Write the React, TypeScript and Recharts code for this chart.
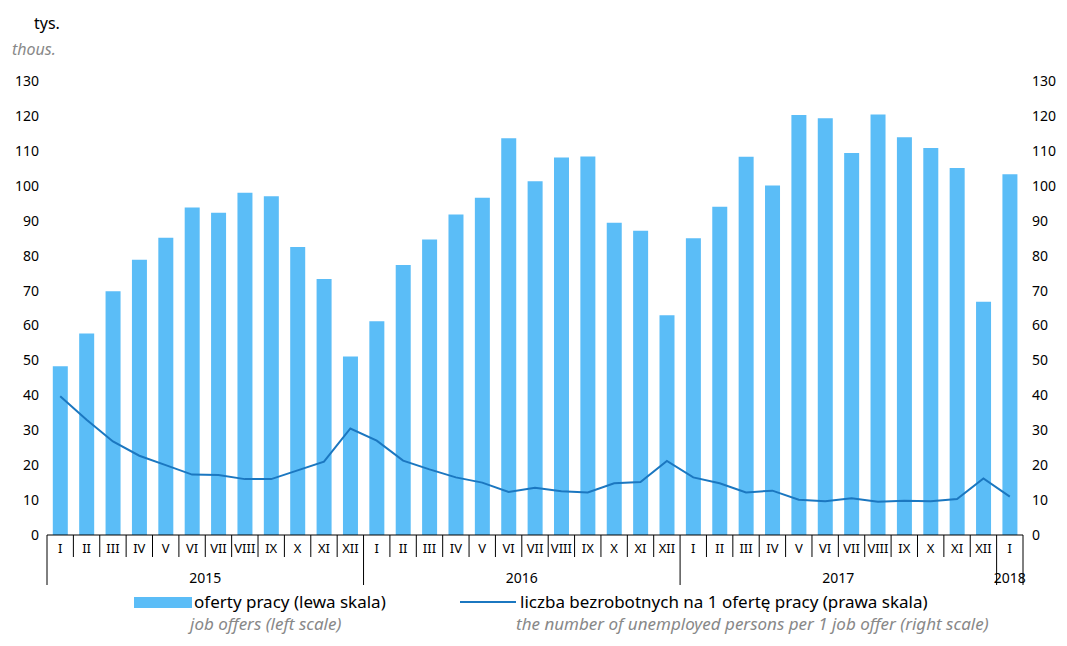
import { ComposedChart, Bar, Line, XAxis, YAxis } from 'recharts'

const months = ['I', 'II', 'III', 'IV', 'V', 'VI', 'VII', 'VIII', 'IX', 'X', 'XI', 'XII']
const years = ['2015', '2016', '2017', '2018']
const jobOffers = [
  48.3, 57.7, 69.8, 78.8, 85.1, 93.8, 92.3, 98, 97, 82.5, 73.3, 51.1,
  61.2, 77.3, 84.6, 91.8, 96.6, 113.6, 101.3, 108.1, 108.4, 89.4, 87.1, 62.9,
  85, 94, 108.3, 100.1, 120.3, 119.3, 109.4, 120.4, 113.9, 110.8, 105.1, 66.8,
  103.3,
]
const unemployedPerOffer = [
  39.7, 33, 26.8, 22.7, 20, 17.3, 17.2, 16, 16, 18.5, 21, 30.5,
  27, 21.3, 18.8, 16.5, 15, 12.3, 13.5, 12.5, 12.2, 14.8, 15.2, 21.2,
  16.5, 14.8, 12.2, 12.7, 10.1, 9.7, 10.5, 9.5, 9.8, 9.7, 10.3, 16.2,
  11,
]
const yTicks = [0, 10, 20, 30, 40, 50, 60, 70, 80, 90, 100, 110, 120, 130]

const data = jobOffers.map((v, i) => ({
  month: months[i % 12],
  year: years[Math.floor(i / 12)],
  offers: v,
  ratio: unemployedPerOffer[i],
}))

const W = 1059
const LEFT = 39
const RIGHT = 36
const BAND = (W - 8 - LEFT - RIGHT) / data.length
const FONT = '"Noto Sans", "Open Sans", sans-serif'

function MonthTick(props: any) {
  const { x, y, payload } = props
  const i = payload.index
  const left = x - BAND / 2
  const d = data[i]
  const yearStart = d.month === 'I'
  const last = i === data.length - 1
  const showYear = d.month === 'VII' || (d.year === '2018' && d.month === 'I')
  const yearX = d.year === '2018' ? x : left
  return (
    <g>
      <line x1={left} x2={left} y1={y - 8} y2={yearStart ? y + 42 : y + 14} stroke="#000" />
      {last && <line x1={left + BAND} x2={left + BAND} y1={y - 8} y2={y + 42} stroke="#000" />}
      <text x={x} y={y + 10} textAnchor="middle" fontSize={13} fontFamily={FONT} fill="#000">{d.month}</text>
      {showYear && (
        <text x={yearX} y={y + 40} textAnchor="middle" fontSize={14} fontFamily={FONT} fill="#000">{d.year}</text>
      )}
    </g>
  )
}

export default function App() {
  return (
    <div style={{ position: 'relative', width: W, height: 628, fontFamily: FONT, marginLeft: -8 }}>
      <div style={{ position: 'absolute', left: 34, top: 4, fontSize: 16 }}>tys.</div>
      <div style={{ position: 'absolute', left: 12, top: 30, fontSize: 16, fontStyle: 'italic', color: '#888' }}>thous.</div>
      <ComposedChart width={W} height={584} data={data} barCategoryGap="22%"
        margin={{ top: 73, right: 0, left: 8, bottom: 0 }}>
        <XAxis dataKey="month" interval={0} tickLine={false} axisLine={{ stroke: '#000' }}
          tick={<MonthTick />} height={57} />
        <YAxis yAxisId="l" domain={[0, 130]} ticks={yTicks} width={LEFT} axisLine={false} tickLine={false}
          tick={{ fill: '#000', fontSize: 14, fontFamily: FONT }} />
        <YAxis yAxisId="r" orientation="right" domain={[0, 130]} ticks={yTicks} width={RIGHT}
          axisLine={false} tickLine={false} tick={{ fill: '#000', fontSize: 14, fontFamily: FONT, textAnchor: 'start' }} tickMargin={3} />
        <Bar yAxisId="l" dataKey="offers" fill="#5bbdf7" isAnimationActive={false} />
        <Line yAxisId="r" dataKey="ratio" stroke="#1b77c0" strokeWidth={2} dot={false} type="linear" isAnimationActive={false} />
      </ComposedChart>
      <div style={{ position: 'absolute', top: 584, left: 8, width: W - 8, fontSize: 17, lineHeight: '20px' }}>
        <div style={{ position: 'absolute', left: 126, top: 0, display: 'flex', alignItems: 'center' }}>
          <span style={{ display: 'inline-block', width: 58, height: 11, background: '#5bbdf7', marginRight: 2 }} />
          oferty pracy (lewa skala)
        </div>
        <div style={{ position: 'absolute', left: 182, top: 22, fontStyle: 'italic', color: '#888' }}>job offers (left scale)</div>
        <div style={{ position: 'absolute', left: 452, top: 0, display: 'flex', alignItems: 'center' }}>
          <span style={{ display: 'inline-block', width: 56, height: 2, background: '#1b77c0', marginRight: 4 }} />
          liczba bezrobotnych na 1 ofertę pracy (prawa skala)
        </div>
        <div style={{ position: 'absolute', left: 508, top: 22, fontStyle: 'italic', color: '#888' }}>the number of unemployed persons per 1 job offer (right scale)</div>
      </div>
    </div>
  )
}
